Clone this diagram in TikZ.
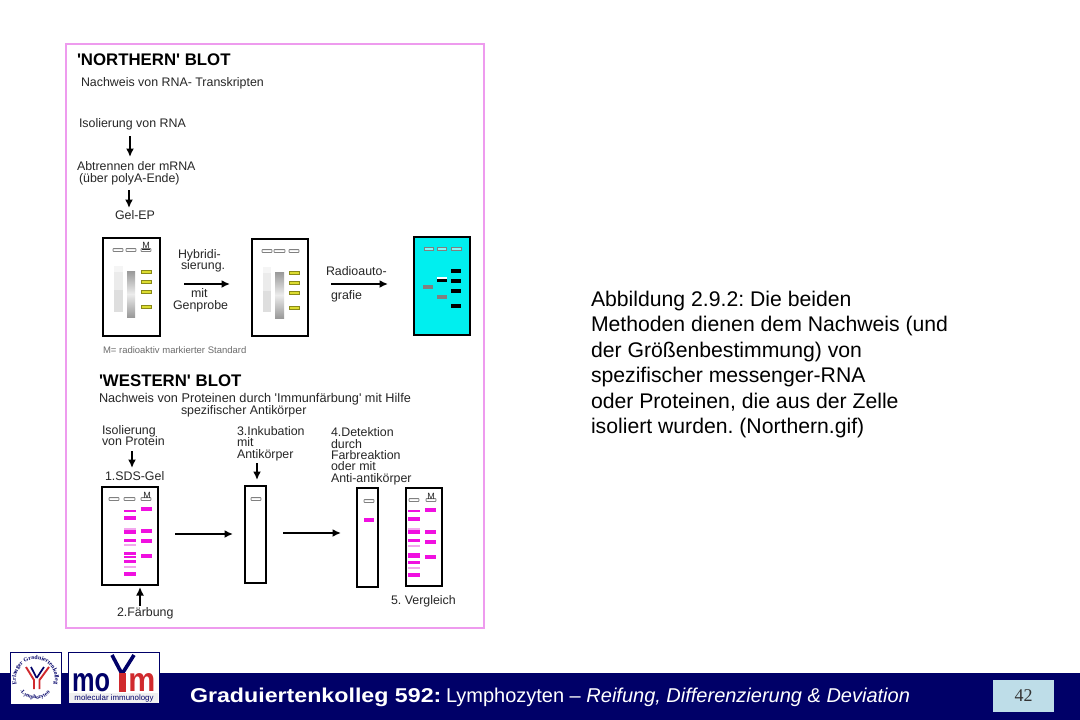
\documentclass[tikz,border=0pt]{standalone}
\usepackage{fontspec}
\usepackage{graphicx}
\setmainfont{Liberation Sans}
\newfontfamily\tnr{Liberation Serif}
\newfontfamily\wideb[FakeStretch=1.16]{Liberation Sans Bold}
\usetikzlibrary{arrows.meta,decorations.text}
\definecolor{barnavy}{HTML}{000068}
\definecolor{framepink}{HTML}{EE9BEE}
\definecolor{magentaband}{HTML}{F010E0}
\definecolor{faintband}{HTML}{F3A6EE}
\definecolor{yellowband}{HTML}{DCDC30}
\definecolor{yellowedge}{HTML}{8A8A18}
\definecolor{cyanfill}{HTML}{00EFEF}
\definecolor{figtext}{HTML}{262626}
\definecolor{redlogo}{HTML}{D02A2E}
\definecolor{pagebox}{HTML}{BEDDE8}
\newcommand\fsz[1]{\fontsize{#1}{#1}\selectfont}
\tikzset{
  lbl/.style={inner sep=0pt,outer sep=0pt,anchor=base west,text=figtext},
  small/.style={lbl,font=\fsz{12.4}},
  head/.style={lbl,text=black,font=\fsz{16.8}\bfseries},
  body/.style={lbl,text=black,font=\fsz{21.2}},
  gelframe/.style={draw=black,line width=1.9pt,inner sep=0pt,outer sep=0pt},
  well/.style={draw=gray,fill=white,line width=0.8pt,rounded corners=0.6pt},
  arr/.style={draw=black,line width=2pt,-{Latex[length=8.5pt,width=8pt]}},
}
\newcommand\gel[6]{\node[gelframe,fill=#6,minimum width={(#4-#2)*1pt},minimum height={(#5-#3)*1pt}] (#1) at ({(#2+#4)/2},{(#3+#5)/2}) {};}
\newcommand\wellat[3]{\draw[well] (#1,{#3-1.4}) rectangle (#2,{#3+1.4});}
\newcommand\band[5]{\fill[#5] (#1,{#3-#4/2}) rectangle (#2,{#3+#4/2});}
\newcommand\yband[3]{\draw[yellowedge,fill=yellowband,line width=.7pt] (#1,{#3-1.3}) rectangle (#2,{#3+1.3});}
\begin{document}
\frenchspacing
\begin{tikzpicture}[x=1pt,y=-1pt]
\useasboundingbox (0,0) rectangle (1080,720);
\fill[white] (0,0) rectangle (1080,720);
% figure frame
\draw[framepink,line width=1.1pt] (66,44) rectangle (484,628);
% Northern text
\node[head] (nt) at (77,65) {\textquotesingle NORTHERN\textquotesingle{} BLOT};
\node[small] (n1) at (81,86.5) {Nachweis von RNA- Transkripten};
\node[small] (n2) at (79,127) {Isolierung von RNA};
\node[small] (n3) at (77,170.5) {Abtrennen der mRNA};
\node[small] (n4) at (79,182) {(über polyA-Ende)};
\node[small] (n5) at (115,219) {Gel-EP};
\coordinate (a1s) at (130,136); \coordinate (a1e) at (130,157);
\coordinate (a2s) at (129,190); \coordinate (a2e) at (129,208);
\draw[arr] (a1s) -- (a1e);
\draw[arr] (a2s) -- (a2e);
% Northern gel 1
\gel{g1}{103}{238}{160}{336}{white}
\foreach \a/\b in {113/123,126/136,141/151} {\wellat{\a}{\b}{250}}
\node[lbl,font=\fsz{9},anchor=base] (m1) at (146,248) {\underline{M}};
\fill[gray!8] (114,266) rectangle (123,272);
\fill[gray!16] (114,272) rectangle (123,290);
\fill[gray!26] (114,290) rectangle (123,312);
\shade[top color=gray!80,bottom color=gray!80,middle color=gray!15] (127,271) rectangle (135,317);
\foreach \y in {272,282,292,307} {\yband{141}{151}{\y}}
% Northern gel 2
\gel{g2}{252}{239}{308}{336}{white}
\foreach \a/\b in {262/272,274/285,289/299} {\wellat{\a}{\b}{251}}
\fill[gray!8] (263,267) rectangle (271,273);
\fill[gray!16] (263,273) rectangle (271,291);
\fill[gray!26] (263,291) rectangle (271,312);
\shade[top color=gray!80,bottom color=gray!80,middle color=gray!15] (275,272) rectangle (284,318);
\foreach \y in {273,283,293,308} {\yband{289}{299}{\y}}
% Northern gel 3
\gel{g3}{414}{237}{470}{335}{cyanfill}
\foreach \a/\b in {424/433,437/446,451/461} {\draw[gray,fill=cyanfill!50!white,line width=.7pt] (\a,247.8) rectangle (\b,250.2);}
\foreach \y in {271,281,291,306} {\band{451}{461}{\y}{3.2}{black}}
\band{437}{447}{278}{2.4}{white}
\band{437}{447}{280.5}{2.6}{black}
\band{423}{433}{287}{4}{gray}
\band{437}{447}{297}{4}{gray}
% Northern labels
\node[small] (h1) at (178,258) {Hybridi-};
\node[small] (h2) at (181,269.5) {sierung.};
\node[small] (h3) at (191,297) {mit};
\node[small] (h4) at (173,309) {Genprobe};
\node[small] (r1) at (326,275) {Radioauto-};
\node[small] (r2) at (331,299) {grafie};
\coordinate (a3s) at (184,284); \coordinate (a3e) at (230,284);
\coordinate (a4s) at (331,284); \coordinate (a4e) at (388,284);
\draw[arr] (a3s) -- (a3e);
\draw[arr] (a4s) -- (a4e);
\node[lbl,font=\fsz{9.5},text=gray!85!black] (ms) at (103,353.5) {M= radioaktiv markierter Standard};
% Western text
\node[head] (wt) at (99,386) {\textquotesingle WESTERN\textquotesingle{} BLOT};
\node[small,font=\fsz{12.7}] (w1) at (99,402) {Nachweis von Proteinen durch \textquotesingle Immunfärbung\textquotesingle{} mit Hilfe};
\node[small] (w2) at (181,414) {spezifischer Antikörper};
\node[small] (w3) at (102,434) {Isolierung};
\node[small] (w4) at (102,445) {von Protein};
\node[small] (w5) at (105,480) {1.SDS-Gel};
\node[small] (w6) at (237,435) {3.Inkubation};
\node[small] (w7) at (237,446.5) {mit};
\node[small] (w8) at (237,458) {Antikörper};
\node[small] (w9) at (331,436) {4.Detektion};
\node[small] (w10) at (331,448) {durch};
\node[small] (w11) at (331,459) {Farbreaktion};
\node[small] (w12) at (331,470) {oder mit};
\node[small] (w13) at (331,482) {Anti-antikörper};
\node[small] (w14) at (117,616) {2.Färbung};
\node[small] (w15) at (391,604) {5. Vergleich};
\coordinate (a5s) at (132,451); \coordinate (a5e) at (132,468);
\coordinate (a6s) at (257,463); \coordinate (a6e) at (257,480);
\coordinate (a7s) at (140,606); \coordinate (a7e) at (140,587);
\coordinate (a8s) at (175,534); \coordinate (a8e) at (233,534);
\coordinate (a9s) at (283,533); \coordinate (a9e) at (341,533);
\draw[arr] (a5s) -- (a5e);
\draw[arr] (a6s) -- (a6e);
\draw[arr] (a7s) -- (a7e);
\draw[arr] (a8s) -- (a8e);
\draw[arr] (a9s) -- (a9e);
% Western gels
\gel{w1g}{102}{487}{158}{585}{white}
\foreach \a/\b in {109/119,124/135,141/151} {\wellat{\a}{\b}{499}}
\node[lbl,font=\fsz{9},anchor=base] (m2) at (147,498) {M};
\foreach \y/\h in {511/2,518/3.6,532/4.4,540/3,553/3,557/2.6,561/3,574/3.6} {\band{124}{136}{\y}{\h}{magentaband}}
\foreach \y in {529,545,567} {\band{124}{136}{\y}{1.6}{faintband}}
\foreach \y in {509,531,541,556} {\band{141}{152}{\y}{3.4}{magentaband}}
\gel{w2g}{245}{486}{266}{583}{white}
\wellat{251}{261}{499}
\gel{w3g}{357}{488}{378}{587}{white}
\wellat{364}{374}{501}
\band{364}{374}{520}{3.2}{magentaband}
\gel{w4g}{406}{488}{442}{586}{white}
\wellat{409}{419}{500}
\wellat{426}{436}{500}
\node[lbl,font=\fsz{9},anchor=base] (m3) at (431,499) {M};
\foreach \y/\h in {511/2,519/3.6,532/4.4,540/3,554/3,557/2.6,562/3,575/3.6} {\band{408}{420}{\y}{\h}{magentaband}}
\foreach \y in {529,546,568} {\band{408}{420}{\y}{1.6}{faintband}}
\foreach \y in {510,532,542,557} {\band{425}{436}{\y}{3.4}{magentaband}}
% Caption
\node[body] (c1) at (591,306) {Abbildung 2.9.2: Die beiden};
\node[body] (c2) at (591,331.5) {Methoden dienen dem Nachweis (und};
\node[body] (c3) at (591,357) {der Größenbestimmung) von};
\node[body] (c4) at (591,382) {spezifischer messenger-RNA};
\node[body] (c5) at (591,408) {oder Proteinen, die aus der Zelle};
\node[body] (c6) at (591,433.5) {isoliert wurden. (Northern.gif)};
% footer
\fill[barnavy] (0,673) rectangle (1080,720);
\node[lbl,text=white,font=\fsz{20}\wideb] (f1) at (190,702) {Graduiertenkolleg 592:};
\node[lbl,text=white,font=\fsz{20}] (f2) at (446,702) {Lymphozyten – \textit{Reifung, Differenzierung \& Deviation}};
\node[inner sep=0pt,minimum width=61pt,minimum height=32pt,fill=pagebox,text=black!80,font=\fsz{18}\tnr] (pg) at (1023.5,696) {42};
% logo 1
\draw[barnavy,fill=white,line width=0.6pt] (10,652) rectangle (61,704);
\path[decorate,decoration={text along path,text align=center,text color=barnavy,
  text={|\fsz{6}\tnr\bfseries|Erlanger Graduiertenkolleg}}]
  ([shift={(200:19.5pt)}]35.5,679) arc (200:-20:19.5pt);
\path[decorate,decoration={text along path,text align=center,text color=barnavy,
  text={|\fsz{5.6}\tnr\bfseries|-Lymphozyten-}}]
  ([shift={(222:20pt)}]35.5,679) arc (222:318:20pt);
\draw[redlogo,line width=1.9pt] (26,667) -- (34,680) -- (34,689);
\draw[redlogo,line width=1.9pt] (49,667) -- (39.5,680) -- (39.5,689);
\draw[barnavy,line width=1.7pt] (31,667) -- (36.7,678);
\draw[barnavy,line width=1.7pt] (44,667) -- (36.7,678);
% logo 2
\draw[barnavy,fill=white,line width=0.6pt] (68,652) rectangle (159,703);
\fill[gray!12] (69,693) rectangle (158,702.5);
\node[inner sep=0pt,text=barnavy,font=\bfseries] (lm) at (91,682.5) {\resizebox{38pt}{18pt}{mo}};
\draw[barnavy,line width=3.6pt] (112,655) -- (122,674);
\draw[barnavy,line width=3.6pt] (134,655) -- (122,674);
\fill[redlogo] (118.5,673) rectangle (126,691.5);
\node[inner sep=0pt,text=redlogo,font=\bfseries] (lm2) at (142,682.5) {\resizebox{27pt}{18pt}{m}};
\node[inner sep=0pt,text=barnavy,font=\fsz{7.9}] (lm3) at (114,698) {molecular immunology};
\end{tikzpicture}
\end{document}
